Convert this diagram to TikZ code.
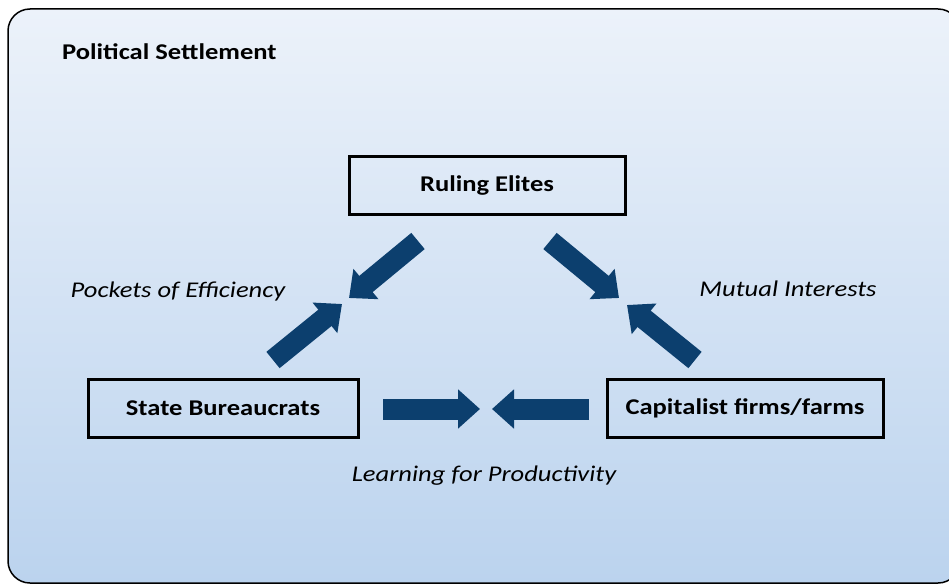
\documentclass[tikz,border=0pt]{standalone}
\usepackage{fontspec}
\setmainfont[FakeStretch=1.18]{Carlito}
\usetikzlibrary{arrows.meta}
\definecolor{arrowblue}{RGB}{12,63,110}
\definecolor{bgtop}{RGB}{236,242,250}
\definecolor{bgbottom}{RGB}{187,211,238}
\begin{document}
\begin{tikzpicture}[x=1pt,y=-1pt,
  actor/.style={draw=black, line width=3pt, minimum width=276pt, minimum height=58pt, font=\fontsize{22.5}{26}\selectfont\bfseries},
  tag/.style={font=\fontsize{22.5}{26}\selectfont\itshape},
  fatarrow/.style={arrowblue, line width=21pt, -{Triangle[length=22pt,width=38pt]}}]
\useasboundingbox (0,0) rectangle (949,585);
\clip (0,0) rectangle (949,585);
\shade[top color=bgtop, bottom color=bgbottom, draw=black, line width=1.5pt, rounded corners=22pt] (8,9) rectangle (960,583);
\node[anchor=west, inner sep=0pt, font=\fontsize{22.5}{26}\selectfont\bfseries] (title) at (62,52) {Political Settlement};

\node[actor] (elites) at (487,186) {Ruling Elites};
\node[actor, minimum width=270pt] (state) at (223,408) {State Bureaucrats};
\node[actor] (firms) at (745,408) {Capitalist firms/farms};

% arrows meeting between the actors
\coordinate (ldtail) at (418,241);
\coordinate (ldtip) at (349,298);
\coordinate (lutail) at (273,360);
\coordinate (lutip) at (342,304);
\coordinate (rdtail) at (550,241);
\coordinate (rdtip) at (619,298);
\coordinate (rutail) at (695,360);
\coordinate (rutip) at (627,305);
\coordinate (brtail) at (383,409);
\coordinate (brtip) at (480,409);
\coordinate (bltail) at (589,409);
\coordinate (bltip) at (492,409);
\draw[fatarrow] (ldtail) -- (ldtip);
\draw[fatarrow] (lutail) -- (lutip);
\draw[fatarrow] (rdtail) -- (rdtip);
\draw[fatarrow] (rutail) -- (rutip);
\draw[fatarrow] (brtail) -- (brtip);
\draw[fatarrow] (bltail) -- (bltip);

\node[tag] (pockets) at (178,292) {Pockets of Efficiency};
\node[tag] (mutual) at (788,289) {Mutual Interests};
\node[tag] (learning) at (484,476) {Learning for Productivity};
\end{tikzpicture}
\end{document}
